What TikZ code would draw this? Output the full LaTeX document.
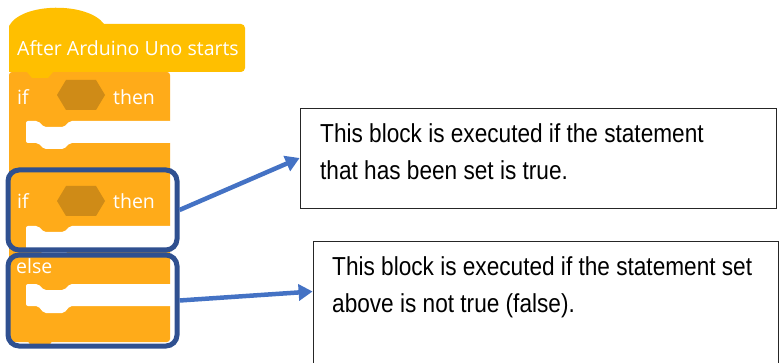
\documentclass[tikz,border=0pt]{standalone}
\usepackage{fontspec}
\setmainfont{Open Sans}
\newfontfamily\notefont[FakeStretch=0.87]{Liberation Sans}
\usetikzlibrary{arrows.meta,positioning}
\definecolor{hatyellow}{HTML}{FFBF00}
\definecolor{ctrlorange}{HTML}{FFAB19}
\definecolor{hexbrown}{HTML}{CF8B17}
\definecolor{framenavy}{HTML}{2F5090}
\definecolor{arrowblue}{HTML}{4472C4}

\begin{document}
\begin{tikzpicture}[x=1pt,y=-1pt,
  blocktext/.style={text=white,font=\fontsize{19.5}{21}\selectfont,anchor=west,inner sep=0pt},
  slot/.style={fill=white,rounded corners=2pt},
  cond/.style={fill=hexbrown},
  frame/.style={draw=framenavy,line width=5pt,rounded corners=11pt,inner sep=0pt},
  callout/.style={draw=black!85,line width=0.8pt,fill=white,inner sep=0pt},
  note/.style={font=\notefont\fontsize{26}{37}\selectfont,align=left,anchor=west,inner sep=0pt},
  link/.style={arrowblue,line width=4.5pt,-{Triangle[length=14pt,width=16pt]}}]

  \clip (0,0) rectangle (781,363);

  % control blocks (if / if-else)
  \fill[ctrlorange, rounded corners=3pt] (9,72) rectangle (170,342);
  \fill[ctrlorange] (27,340) -- (32,347) -- (48,347) -- (53,340) -- cycle;
  \fill[slot] (172,121) -- (70,121) -- (64,127) -- (44,127) -- (38,121) -- (26,121)
    -- (26,143) -- (38,143) -- (44,149) -- (64,149) -- (70,143) -- (172,143) -- cycle;
  \fill[slot] (172,226) -- (70,226) -- (64,232) -- (44,232) -- (38,226) -- (26,226)
    -- (26,249) -- (38,249) -- (44,255) -- (64,255) -- (70,249) -- (172,249) -- cycle;
  \fill[slot] (172,284) -- (70,284) -- (64,290) -- (44,290) -- (38,284) -- (26,284)
    -- (26,306) -- (38,306) -- (44,313) -- (64,313) -- (70,306) -- (172,306) -- cycle;

  % hat block
  \fill[hatyellow] (9,72) -- (9,26) .. controls (22,2) and (88,2) .. (104,24)
    [rounded corners=4pt] -- (245,24) -- (245,72) [sharp corners] -- (53,72)
    -- (48,78) -- (32,78) -- (27,72) -- cycle;

  % conditions
  \fill[cond] (57,95) -- (66,80) -- (96,80) -- (105,95) -- (96,110) -- (66,110) -- cycle;
  \fill[cond] (57,201) -- (66,186) -- (96,186) -- (105,201) -- (96,216) -- (66,216) -- cycle;

  \node[blocktext] (hattext) at (17,48) {After Arduino Uno starts};
  \node[blocktext] (ifone) at (17,97) {if};
  \node[blocktext] (thenone) at (113,97) {then};
  \node[blocktext] (iftwo) at (17,201) {if};
  \node[blocktext] (thentwo) at (113,201) {then};
  \node[blocktext] (elsetwo) at (16,266) {else};

  % frames round the if and else parts
  \node[frame, minimum width=169pt, minimum height=80pt] (ifframe) at (92.5,210) {};
  \node[frame, minimum width=169pt, minimum height=91pt] (elseframe) at (92.5,300.5) {};

  % notes
  \node[callout, minimum width=476pt, minimum height=100pt] (notetrue) at (538,158) {};
  \node[callout, minimum width=465pt, minimum height=139pt] (notefalse) at (545.5,310.5) {};
  \node[note] (txttrue) at (320,152) {This block is executed if the statement\\that has been set is true.};
  \node[note] (txtfalse) at (332,287.5) {This block is executed if the statement set\\above is not true (false).};

  \draw[link] (ifframe.east) -- (notetrue.west);
  \draw[link] (elseframe.east) -- ([yshift=19pt]notefalse.west);
\end{tikzpicture}
\end{document}
